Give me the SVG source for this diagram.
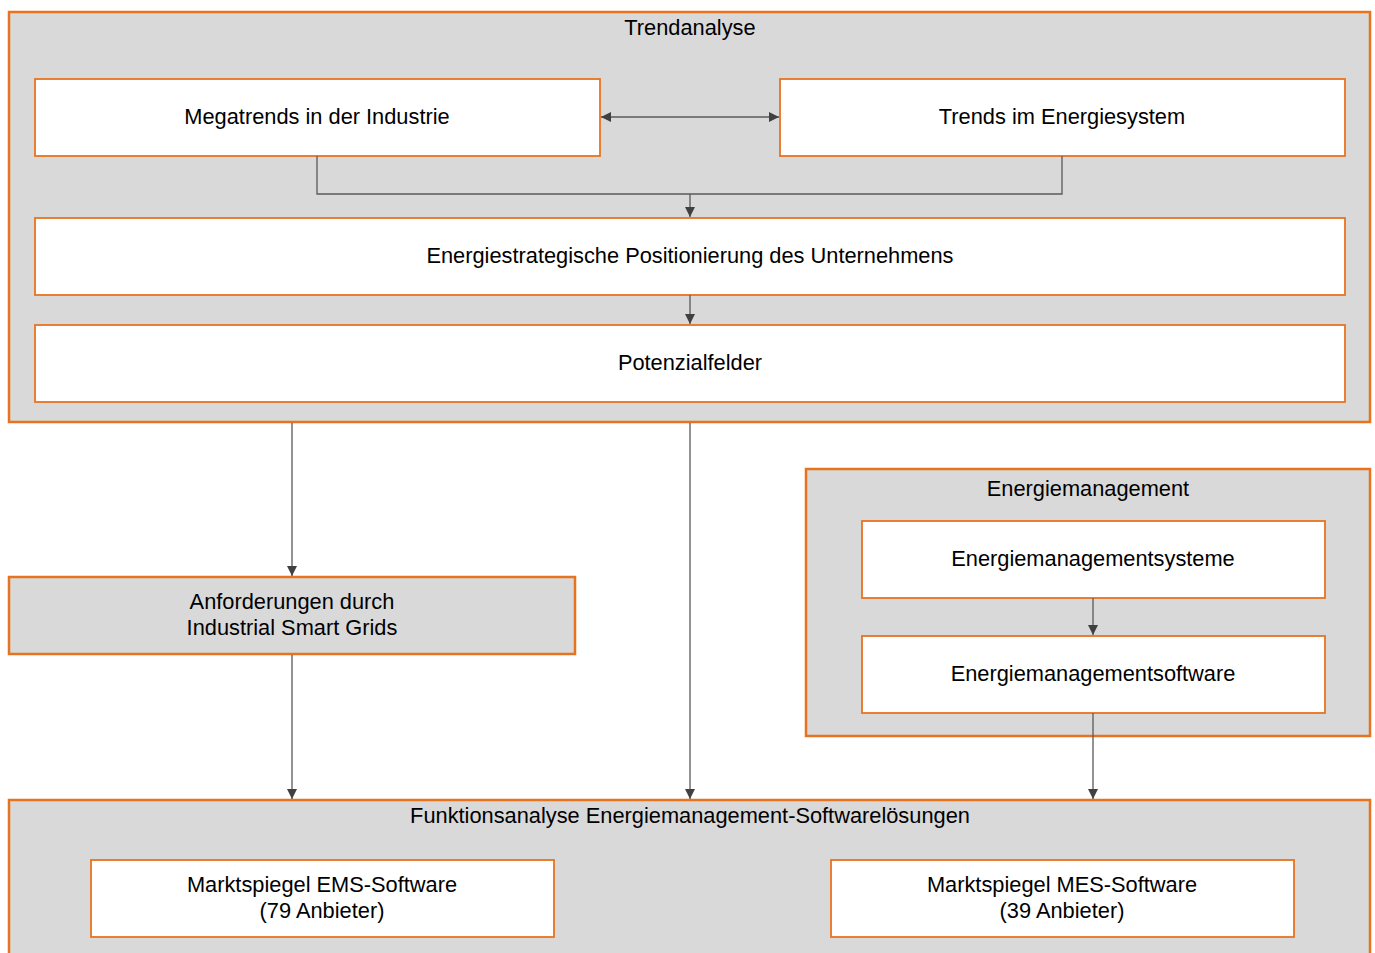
<svg xmlns="http://www.w3.org/2000/svg" width="1375" height="953" viewBox="0 0 1375 953">
<style>
.cont{fill:#d9d9d9;stroke:#e8731e;stroke-width:2.5}
.box{fill:#ffffff;stroke:#e8731e;stroke-width:1.8}
.t{font-family:"Liberation Sans",Arial,sans-serif;font-size:21.8px;fill:#000;text-anchor:middle}
.c{fill:none;stroke:#595959;stroke-width:1.3}
</style>
<defs>
<marker id="ah" viewBox="0 0 10 10" refX="10" refY="5" markerWidth="10" markerHeight="10" markerUnits="userSpaceOnUse" orient="auto-start-reverse">
<path d="M0,0 L10,5 L0,10 Z" fill="#404040"/>
</marker>
</defs>
<rect width="1375" height="953" fill="#fff"/>
<g id="trendanalyse">
<rect class="cont" x="9" y="12" width="1361" height="410"/>
<text class="t" x="690" y="35">Trendanalyse</text>
</g>
<g id="megatrends">
<rect class="box" x="35" y="79" width="565" height="77"/>
<text class="t" x="317" y="124">Megatrends in der Industrie</text>
</g>
<g id="trends-energie">
<rect class="box" x="780" y="79" width="565" height="77"/>
<text class="t" x="1062" y="124">Trends im Energiesystem</text>
</g>
<g id="positionierung">
<rect class="box" x="35" y="218" width="1310" height="77"/>
<text class="t" x="690" y="263">Energiestrategische Positionierung des Unternehmens</text>
</g>
<g id="potenzialfelder">
<rect class="box" x="35" y="325" width="1310" height="77"/>
<text class="t" x="690" y="370">Potenzialfelder</text>
</g>
<g id="anforderungen">
<rect class="cont" x="9" y="577" width="566" height="77"/>
<text class="t" x="292" y="609">Anforderungen durch</text>
<text class="t" x="292" y="635">Industrial Smart Grids</text>
</g>
<g id="energiemanagement">
<rect class="cont" x="806" y="469" width="564" height="267"/>
<text class="t" x="1088" y="496">Energiemanagement</text>
</g>
<g id="ems-systeme">
<rect class="box" x="862" y="521" width="463" height="77"/>
<text class="t" x="1093" y="566">Energiemanagementsysteme</text>
</g>
<g id="ems-software">
<rect class="box" x="862" y="636" width="463" height="77"/>
<text class="t" x="1093" y="681">Energiemanagementsoftware</text>
</g>
<g id="funktionsanalyse">
<rect class="cont" x="9" y="800" width="1361" height="170"/>
<text class="t" x="690" y="823">Funktionsanalyse Energiemanagement-Softwarelösungen</text>
</g>
<g id="marktspiegel-ems">
<rect class="box" x="91" y="860" width="463" height="77"/>
<text class="t" x="322" y="892">Marktspiegel EMS-Software</text>
<text class="t" x="322" y="918">(79 Anbieter)</text>
</g>
<g id="marktspiegel-mes">
<rect class="box" x="831" y="860" width="463" height="77"/>
<text class="t" x="1062" y="892">Marktspiegel MES-Software</text>
<text class="t" x="1062" y="918">(39 Anbieter)</text>
</g>
<g id="connectors">
<path class="c" d="M601,117 H779" marker-start="url(#ah)" marker-end="url(#ah)"/>
<path class="c" d="M317,156 V194 H1062 V156"/>
<path class="c" d="M690,194 V217" marker-end="url(#ah)"/>
<path class="c" d="M690,295 V324" marker-end="url(#ah)"/>
<path class="c" d="M292,423 V576" marker-end="url(#ah)"/>
<path class="c" d="M292,655 V799" marker-end="url(#ah)"/>
<path class="c" d="M690,423 V799" marker-end="url(#ah)"/>
<path class="c" d="M1093,598 V635" marker-end="url(#ah)"/>
<path class="c" d="M1093,713 V799" marker-end="url(#ah)"/>
</g>
</svg>
